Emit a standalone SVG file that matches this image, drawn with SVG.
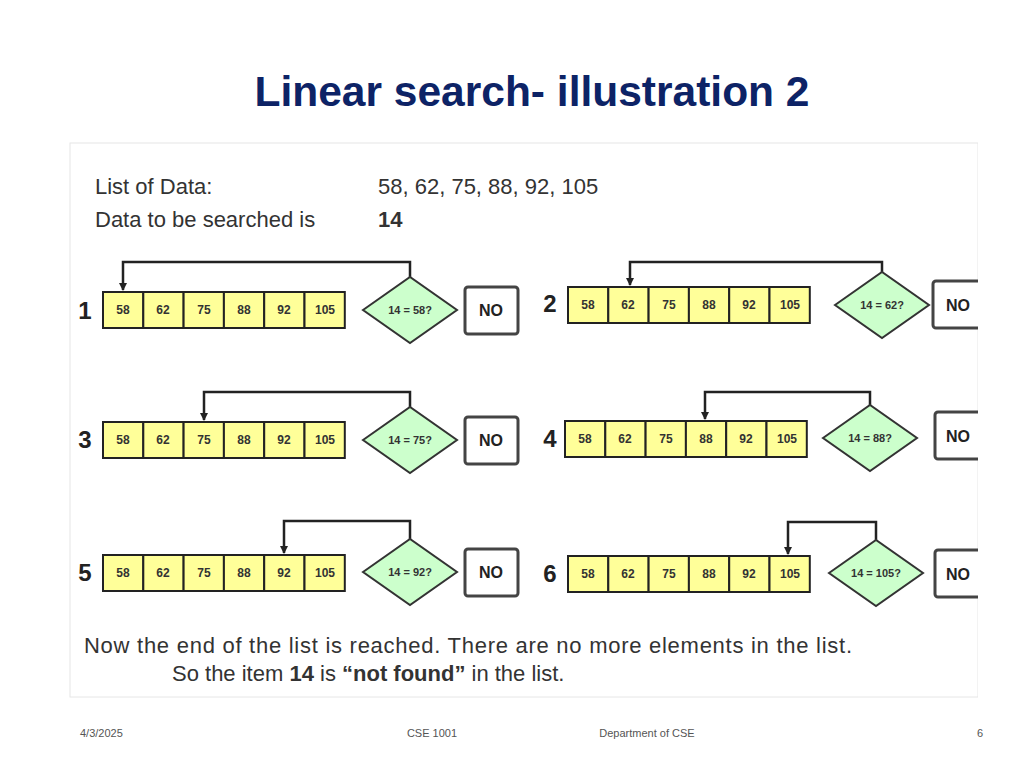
<svg xmlns="http://www.w3.org/2000/svg" width="1024" height="768" viewBox="0 0 1024 768">
<defs>
<style>
.t{font-family:"Liberation Sans",Arial,sans-serif}
.cell{fill:#ffff99;stroke:#222;stroke-width:2}
.cv{font-family:"Liberation Sans",Arial,sans-serif;font-size:12px;font-weight:bold;fill:#333;text-anchor:middle}
.dia{fill:#ccffcc;stroke:#333;stroke-width:2}
.dt{font-family:"Liberation Sans",Arial,sans-serif;font-size:11px;font-weight:bold;fill:#333;text-anchor:middle}
.no{fill:#fff;stroke:#444;stroke-width:3}
.nt{font-family:"Liberation Sans",Arial,sans-serif;font-size:16px;font-weight:bold;fill:#222;text-anchor:middle}
.num{font-family:"Liberation Sans",Arial,sans-serif;font-size:24px;font-weight:bold;fill:#222;text-anchor:middle}
.c{fill:none;stroke:#222;stroke-width:2.5}
.big{font-family:"Liberation Sans",Arial,sans-serif;font-size:22px;fill:#333}
.ft{font-family:"Liberation Sans",Arial,sans-serif;font-size:11px;fill:#555}
</style>
<marker id="ah" markerWidth="8" markerHeight="8" refX="7" refY="4" orient="auto" markerUnits="userSpaceOnUse"><path d="M0,0 L8,4 L0,8 z" fill="#222"/></marker>
<g id="arr">
<rect class="cell" x="0" y="0" width="40.3" height="36"/><rect class="cell" x="40.3" y="0" width="40.3" height="36"/><rect class="cell" x="80.6" y="0" width="40.3" height="36"/><rect class="cell" x="120.9" y="0" width="40.3" height="36"/><rect class="cell" x="161.2" y="0" width="40.3" height="36"/><rect class="cell" x="201.5" y="0" width="40.3" height="36"/>
<text class="cv" x="20" y="22">58</text><text class="cv" x="60" y="22">62</text><text class="cv" x="101" y="22">75</text><text class="cv" x="141" y="22">88</text><text class="cv" x="181" y="22">92</text><text class="cv" x="222" y="22">105</text>
</g>
</defs>
<rect width="1024" height="768" fill="#fff"/>
<text class="t" x="532" y="106" font-size="42.5" font-weight="bold" fill="#0d2366" text-anchor="middle">Linear search- illustration 2</text>
<rect x="70" y="143" width="908" height="554" fill="#fff" stroke="#e6e6e6"/>
<text class="big" x="95" y="194">List of Data:</text>
<text class="big" x="378" y="194">58, 62, 75, 88, 92, 105</text>
<text class="big" x="95" y="227">Data to be searched is</text>
<text class="big" x="378" y="227" font-weight="bold">14</text>
<g id="connectors">
<polyline class="c" points="410,277 410,262 123,262 123,290" marker-end="url(#ah)"/>
<polyline class="c" points="882,272 882,262 630,262 630,285" marker-end="url(#ah)"/>
<polyline class="c" points="410,407 410,392 204,392 204,420" marker-end="url(#ah)"/>
<polyline class="c" points="870,405 870,392 705,392 705,419" marker-end="url(#ah)"/>
<polyline class="c" points="410,539 410,521 284,521 284,553" marker-end="url(#ah)"/>
<polyline class="c" points="876,540 876,522 788,522 788,554" marker-end="url(#ah)"/>
</g>
<g id="step1"><text class="num" x="85" y="319">1</text><use href="#arr" x="103" y="292"/><polygon class="dia" points="363,310 410,277 457,310 410,343"/><text class="dt" x="410" y="314">14 = 58?</text><rect class="no" x="465" y="287" width="53" height="47" rx="3"/><text class="nt" x="491" y="316">NO</text></g>
<g id="step2"><text class="num" x="550" y="312">2</text><use href="#arr" x="568" y="287"/><polygon class="dia" points="835,305 882,272 929,305 882,338"/><text class="dt" x="882" y="309">14 = 62?</text><rect class="no" x="933" y="281" width="50" height="47" rx="3"/><text class="nt" x="958" y="311">NO</text></g>
<g id="step3"><text class="num" x="85" y="448">3</text><use href="#arr" x="103" y="422"/><polygon class="dia" points="363,440 410,407 457,440 410,473"/><text class="dt" x="410" y="444">14 = 75?</text><rect class="no" x="465" y="417" width="53" height="47" rx="3"/><text class="nt" x="491" y="446">NO</text></g>
<g id="step4"><text class="num" x="550" y="447">4</text><use href="#arr" x="565" y="421"/><polygon class="dia" points="823,438 870,405 917,438 870,471"/><text class="dt" x="870" y="442">14 = 88?</text><rect class="no" x="935" y="412" width="48" height="47" rx="3"/><text class="nt" x="958" y="442">NO</text></g>
<g id="step5"><text class="num" x="85" y="581">5</text><use href="#arr" x="103" y="555"/><polygon class="dia" points="363,572 410,539 457,572 410,605"/><text class="dt" x="410" y="576">14 = 92?</text><rect class="no" x="465" y="549" width="53" height="47" rx="3"/><text class="nt" x="491" y="578">NO</text></g>
<g id="step6"><text class="num" x="550" y="582">6</text><use href="#arr" x="568" y="556"/><polygon class="dia" points="829,573 876,540 923,573 876,606"/><text class="dt" x="876" y="577">14 = 105?</text><rect class="no" x="935" y="550" width="48" height="47" rx="3"/><text class="nt" x="958" y="580">NO</text></g>
<text class="big" x="84" y="653" font-size="23.5" textLength="768">Now the end of the list is reached. There are no more elements in the list.</text>
<text class="big" x="172" y="681" font-size="23.5">So the item <tspan font-weight="bold">14</tspan> is <tspan font-weight="bold">“not found”</tspan> in the list.</text>
<rect x="978" y="140" width="46" height="560" fill="#fff"/>
<text class="ft" x="80" y="737">4/3/2025</text>
<text class="ft" x="432" y="737" text-anchor="middle">CSE 1001</text>
<text class="ft" x="647" y="737" text-anchor="middle">Department of CSE</text>
<text class="ft" x="980" y="737" text-anchor="middle">6</text>
</svg>
